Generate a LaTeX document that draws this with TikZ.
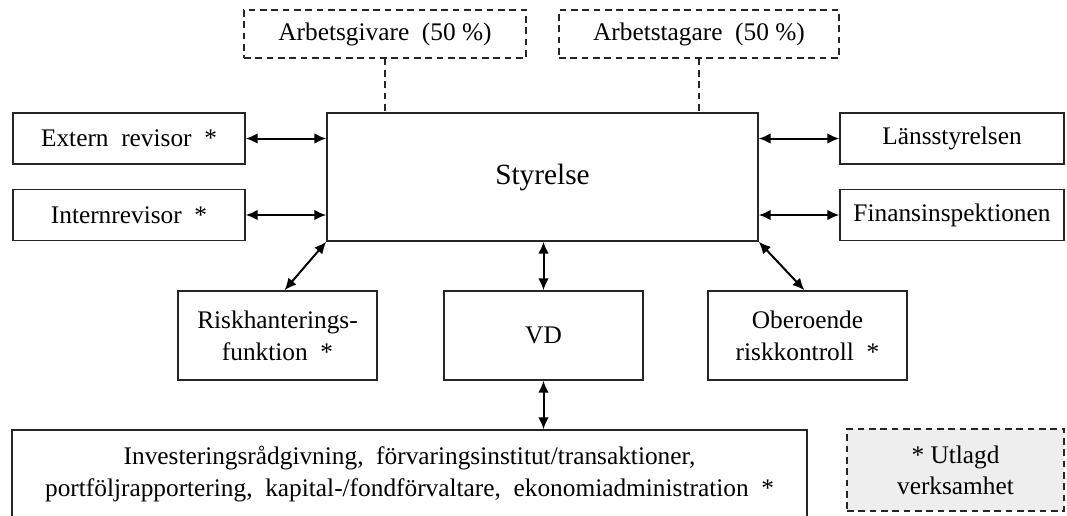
\documentclass[tikz,border=0pt]{standalone}
\usepackage{fontspec}
\setmainfont{Liberation Serif}
\usetikzlibrary{arrows.meta}
\usetikzlibrary{calc}
\usetikzlibrary{positioning}

\begin{document}
\begin{tikzpicture}	[x=0.75pt, y=-0.75pt, org box/.style={draw=black!85, line width=1.1pt, inner sep=0pt, align=center, font=\fontsize{19}{24}\selectfont}, dash box/.style={org box, dash pattern=on 5pt off 3.5pt}, link/.style={{Latex[length=9pt,width=8pt]}-{Latex[length=9pt,width=8pt]}, line width=1.5pt}, owner/.style={dash pattern=on 5pt off 3.5pt, line width=1.1pt, draw=black!85}]
\tikzstyle{side}=[org box, minimum width=174pt, minimum height=38.5pt]
\tikzstyle{mid}=[org box, minimum width=149pt, minimum height=66.75pt]
\useasboundingbox (0,0) rectangle (1067,515);
\clip (0,0) rectangle (1067,515);
\node (ag)[dash box, minimum width=211.5pt, minimum height=36pt] at (385,34) {Arbetsgivare~ (50 \%)};
\node (at)[dash box, minimum width=210pt, minimum height=36pt] at (699,34) {Arbetstagare~ (50 \%)};
\node (styr)[org box, minimum width=323.25pt, minimum height=96pt, font=\fontsize{22}{26}\selectfont] at (542.5,177) {Styrelse};
\node (ext)[side] at (129,138.5) {Extern~ revisor~ *};
\node (int)[side] at (129,215) {Internrevisor~ *};
\node (lst)[side, minimum width=168pt] at (952,138.5) {Länsstyrelsen};
\node (fi)[side, minimum width=168pt] at (952,215) {Finansinspektionen};
\node (risk)[mid] at (277.5,335.5) {Riskhanterings-\\funktion~ *};
\node (vd)[mid] at (543.5,335.5) {VD};
\node (ok)[mid] at (807.5,335.5) {Oberoende\\riskkontroll~ *};
\node (ops)[org box, minimum width=596.25pt, minimum height=66.75pt] at (409.5,474.5) {Investeringsrådgivning,~ förvaringsinstitut/transaktioner,\\portföljrapportering,~ kapital-/fondförvaltare,~ ekonomiadministration~ *};
\node (note)[dash box, fill=gray!13, minimum width=162.75pt, minimum height=61.5pt, font=\fontsize{19}{23}\selectfont] at (955.5,470) {* Utlagd\\verksamhet};
\draw[owner] (ag.south) -- (ag.south |- styr.north);
\draw[owner] (at.south) -- (at.south |- styr.north);
\draw[link] (ext.east) -- (ext.east -| styr.west);
\draw[link] (int.east) -- (int.east -| styr.west);
\draw[link] (lst.west) -- (lst.west -| styr.east);
\draw[link] (fi.west) -- (fi.west -| styr.east);
\draw[link] (styr.south west) -- ($(risk.north)+(7,0)$);
\draw[link] (styr.south east) -- ($(ok.north)+(-3,0)$);
\draw[link] (vd.north |- styr.south) -- (vd.north);
\draw[link] (vd.south) -- (vd.south |- ops.north);
\end{tikzpicture}
\end{document}
